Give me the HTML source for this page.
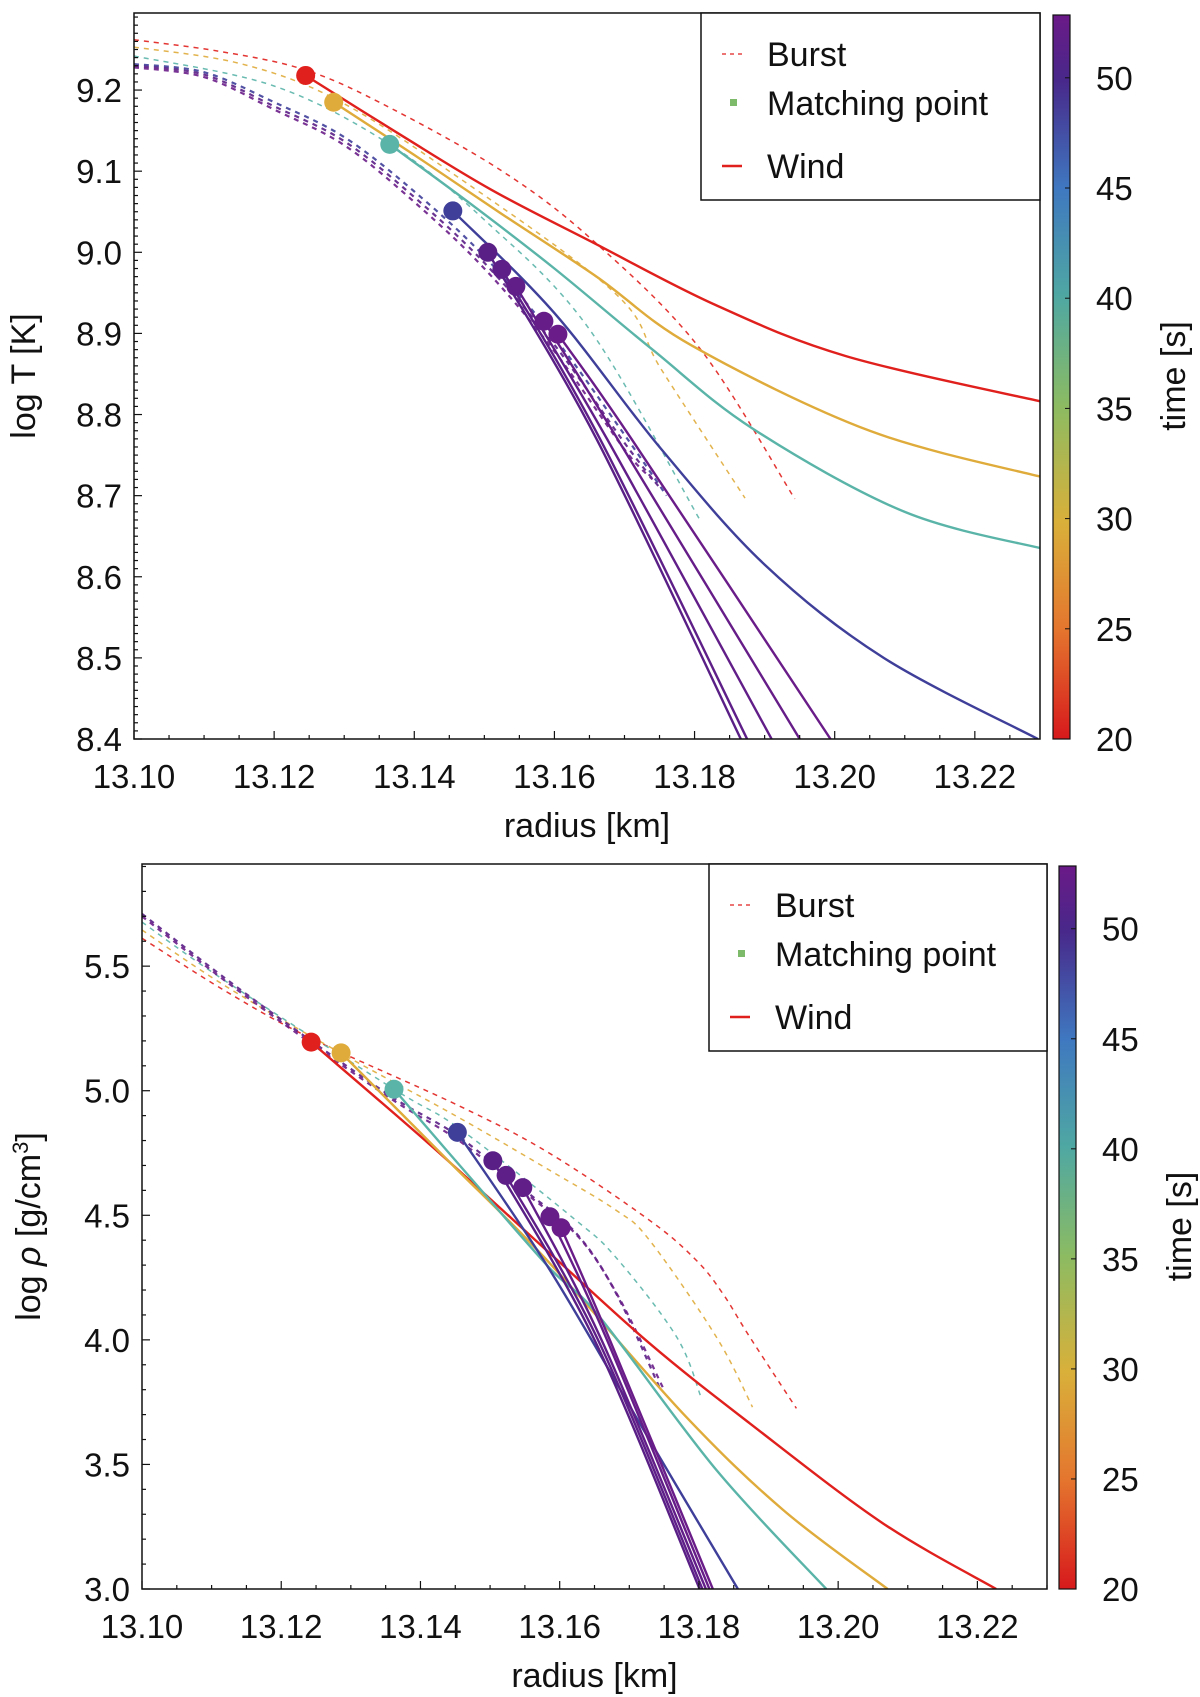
<!DOCTYPE html>
<html><head><meta charset="utf-8"><style>
html,body{margin:0;padding:0;background:#fff;width:1200px;height:1697px;overflow:hidden}
svg{display:block}
text{font-family:"Liberation Sans",sans-serif;fill:#111}
</style></head><body>
<svg id="fig" width="1200" height="1697" viewBox="0 0 1200 1697">
<defs>
<linearGradient id="cb" x1="0" y1="1" x2="0" y2="0">
<stop offset="0" stop-color="#d7191c"/><stop offset="0.15" stop-color="#e4752e"/>
<stop offset="0.30" stop-color="#d9b03a"/><stop offset="0.46" stop-color="#8cbb62"/>
<stop offset="0.61" stop-color="#4fa8a2"/><stop offset="0.76" stop-color="#3f78c0"/>
<stop offset="0.91" stop-color="#48288a"/><stop offset="1" stop-color="#6b1a88"/>
</linearGradient>
</defs>
</svg>
<script>
// ---- data: top panel (log T) ----
const colorsT = ['#e0201d','#dfab3a','#5ab4a8','#3f3f9a','#5a1f86','#5e1f88','#621e88','#661d88','#6a1d88'];
const dotR = [13.1245,13.1285,13.1365,13.1455,13.1505,13.1525,13.1545,13.1585,13.1605];
const dotT = [9.218,9.185,9.133,9.051,9.000,8.979,8.958,8.915,8.899];
const windT_r = [
 [13.1245,13.138,13.151,13.1653,13.183,13.2016,13.23],
 [13.1285,13.14,13.152,13.166,13.1796,13.205,13.23],
 [13.1365,13.148,13.16,13.174,13.1884,13.21,13.23],
 [13.1455,13.16,13.175,13.19,13.207,13.229],
 [13.1505,13.166,13.1866],
 [13.1525,13.1665,13.1875],
 [13.1545,13.1675,13.191],
 [13.1585,13.169,13.195],
 [13.1605,13.171,13.1994]];
const windT_v = [
 [9.218,9.145,9.077,9.013,8.935,8.872,8.815],
 [9.185,9.12,9.05,8.97,8.885,8.78,8.722],
 [9.133,9.06,8.98,8.88,8.782,8.68,8.634],
 [9.051,8.925,8.76,8.615,8.50,8.400],
 [9.000,8.77,8.40],
 [8.979,8.77,8.40],
 [8.958,8.77,8.40],
 [8.915,8.77,8.40],
 [8.899,8.77,8.40]];
const burstT_r = [
 [13.10,13.112,13.124,13.135,13.1522,13.1653,13.1807,13.1943],
 [13.10,13.115,13.1285,13.145,13.1686,13.1753,13.1872],
 [13.10,13.12,13.1365,13.15,13.165,13.1807],
 [13.10,13.11,13.12,13.13,13.14,13.15,13.16,13.17,13.176],
 [13.10,13.11,13.12,13.13,13.14,13.15,13.16,13.17,13.175],
 [13.10,13.11,13.12,13.13,13.14,13.15,13.16,13.17,13.174]];
const burstT_v = [
 [9.262,9.248,9.226,9.185,9.102,9.016,8.882,8.696],
 [9.253,9.233,9.19,9.10,8.95,8.855,8.697],
 [9.242,9.205,9.133,9.04,8.905,8.671],
 [9.232,9.222,9.185,9.142,9.075,8.995,8.895,8.775,8.70],
 [9.230,9.219,9.180,9.137,9.068,8.987,8.886,8.765,8.71],
 [9.228,9.216,9.176,9.132,9.062,8.980,8.878,8.757,8.72]];
const burstT_c = ['#e0201d','#dfab3a','#5ab4a8','#3f3f9a','#5a1f86','#6a1d88'];

// ---- data: bottom panel (log rho) ----
const dotRr = [13.1243,13.1286,13.1362,13.1453,13.1504,13.1523,13.1547,13.1586,13.1602];
const dotRho = [5.195,5.152,5.006,4.833,4.719,4.660,4.611,4.494,4.450];
const windR_r = [
 [13.1243,13.1415,13.1586,13.1729,13.1873,13.2064,13.2227],
 [13.1286,13.1436,13.1586,13.1777,13.1921,13.2071],
 [13.1362,13.1475,13.1586,13.1657,13.1825,13.1983],
 [13.1453,13.1586,13.1729,13.1856],
 [13.1504,13.165,13.1801],
 [13.1523,13.1655,13.1805],
 [13.1547,13.166,13.181],
 [13.1586,13.1668,13.1815],
 [13.1602,13.1672,13.182]];
const windR_v = [
 [5.195,4.78,4.347,3.986,3.665,3.264,3.0],
 [5.152,4.73,4.307,3.705,3.317,3.0],
 [5.006,4.64,4.287,4.093,3.478,3.0],
 [4.833,4.28,3.598,3.0],
 [4.719,4.0,3.0],
 [4.660,4.0,3.0],
 [4.611,4.0,3.0],
 [4.494,4.0,3.0],
 [4.450,4.0,3.0]];
const burstR_r = [
 [13.10,13.112,13.1243,13.1455,13.1586,13.1729,13.1796,13.1834,13.1873,13.194],
 [13.10,13.112,13.1286,13.145,13.1586,13.1681,13.1729,13.1825,13.1877],
 [13.10,13.112,13.1362,13.1455,13.1619,13.1681,13.1768,13.1803],
 [13.10,13.112,13.1243,13.1362,13.1453,13.155,13.1624,13.1681,13.1744],
 [13.10,13.112,13.1243,13.1362,13.1455,13.1555,13.1628,13.1685,13.1748]];
const burstR_v = [
 [5.612,5.40,5.21,4.94,4.748,4.48,4.32,4.187,4.012,3.725],
 [5.645,5.42,5.15,4.90,4.68,4.52,4.40,4.012,3.73],
 [5.677,5.44,5.006,4.85,4.49,4.33,4.012,3.77],
 [5.71,5.45,5.2,4.97,4.82,4.6,4.427,4.187,3.805],
 [5.70,5.44,5.19,4.96,4.80,4.58,4.41,4.17,3.81]];
const burstR_c = ['#e0201d','#dfab3a','#5ab4a8','#5a1f86','#6a1d88'];

const xTicks = ['13.10','13.12','13.14','13.16','13.18','13.20','13.22'];
const yTicksT = ['8.4','8.5','8.6','8.7','8.8','8.9','9.0','9.1','9.2'];
const yTicksR = ['3.0','3.5','4.0','4.5','5.0','5.5'];
const cbTicks = [20,25,30,35,40,45,50];

const NS='http://www.w3.org/2000/svg';
const svg=document.getElementById('fig');
function mk(tag,attrs,parent){const e=document.createElementNS(NS,tag);for(const k in attrs)e.setAttribute(k,attrs[k]);(parent||svg).appendChild(e);return e;}
function smooth(pts){let d='M'+pts[0][0]+','+pts[0][1];
 for(let i=0;i<pts.length-1;i++){const p0=pts[i-1]||pts[i],p1=pts[i],p2=pts[i+1],p3=pts[i+2]||p2;
  const c1=[p1[0]+(p2[0]-p0[0])/6,p1[1]+(p2[1]-p0[1])/6],c2=[p2[0]-(p3[0]-p1[0])/6,p2[1]-(p3[1]-p1[1])/6];
  d+=' C'+c1[0].toFixed(1)+','+c1[1].toFixed(1)+' '+c2[0].toFixed(1)+','+c2[1].toFixed(1)+' '+p2[0].toFixed(1)+','+p2[1].toFixed(1);}
 return d;}

function panel(o){
 const sx=v=>o.L+(v-o.x0)/(o.x1-o.x0)*(o.R-o.L);
 const sy=v=>o.B-(v-o.y0)/(o.y1-o.y0)*(o.B-o.T);
 const g=mk('g',{});
 
 
 const clip=mk('clipPath',{id:'c'+o.name},g);mk('rect',{x:o.L,y:o.T,width:o.R-o.L,height:o.B-o.T},clip);
 const pg=mk('g',{'clip-path':'url(#c'+o.name+')'},g);
 o.br.forEach((rs,i)=>{const p=mk('path',{d:smooth(rs.map((r,j)=>[sx(r),sy(o.bv[i][j])])),fill:'none',stroke:o.bc[i],'stroke-width':i>=3?2.2:1.5,'stroke-dasharray':'5,5',opacity:0.9},pg);
  
  });
 o.wr.forEach((rs,i)=>{const p=mk('path',{d:smooth(rs.map((r,j)=>[sx(r),sy(o.wv[i][j])])),fill:'none',stroke:colorsT[i],'stroke-width':2.4},pg);
  
  });
 o.dr.forEach((r,i)=>{const c=mk('circle',{cx:sx(r),cy:sy(o.dv[i]),r:9.5,fill:colorsT[i]},pg);
  
  });
 mk('rect',{x:o.L,y:o.T,width:o.R-o.L,height:o.B-o.T,fill:'none',stroke:'#111','stroke-width':1.5},g);
 for(let v=13.10;v<=o.x1+1e-9;v+=0.005){const X=sx(v);const maj=Math.abs(Math.round(v*50)-v*50)<1e-6;
  mk('line',{x1:X,x2:X,y1:o.B,y2:o.B-(maj?8:4),stroke:'#111','stroke-width':1.2},g);}
 xTicks.forEach(t=>{const e=mk('text',{x:sx(+t),y:o.B+49,'text-anchor':'middle','font-size':33},g);e.textContent=t;
  
  });
 const n=Math.round((o.y1-o.y0)/o.ym);
 for(let k=0;k<=n;k++){const v=o.y0+k*o.ym;const Y=sy(v);if(Y<o.T)break;
  const maj=Math.abs(v/o.yM-Math.round(v/o.yM))<1e-6;
  mk('line',{x1:o.L,x2:o.L+(maj?8:4),y1:Y,y2:Y,stroke:'#111','stroke-width':1.2},g);}
 o.yt.forEach(t=>{const e=mk('text',{x:o.L-12,y:sy(+t)+12,'text-anchor':'end','font-size':33},g);e.textContent=t;
  
  });
 const xl=mk('text',{x:(o.L+o.R)/2,y:o.B+98,'text-anchor':'middle','font-size':34},g);xl.textContent='radius [km]';
 
 
 const yl=mk('text',{x:0,y:0,'text-anchor':'middle','font-size':34,transform:`translate(${o.ylx},${(o.T+o.B)/2}) rotate(-90)`},g);
 yl.innerHTML=o.ylab;
 
 
 const lg=mk('g',{},g);
 
 
 mk('rect',{x:o.lgx,y:o.T,width:o.R-o.lgx,height:o.lgh,fill:'#fff',stroke:'#111','stroke-width':1.5},lg);
 mk('line',{x1:o.lgx+21,x2:o.lgx+41,y1:o.T+41,y2:o.T+41,stroke:'#e0201d','stroke-width':1.3,'stroke-dasharray':'4,4'},lg);
 mk('rect',{x:o.lgx+29,y:o.T+86,width:7,height:7,fill:'#7dbb6a'},lg);
 mk('line',{x1:o.lgx+21,x2:o.lgx+41,y1:o.T+153,y2:o.T+153,stroke:'#e0201d','stroke-width':2.5},lg);
 [['Burst',53],['Matching point',102],['Wind',165]].forEach(([t,y])=>{const e=mk('text',{x:o.lgx+66,y:o.T+y,'font-size':34},lg);e.textContent=t;
  
  });
 const cg=mk('g',{},g);
 
 
 mk('rect',{x:o.cbx,y:o.T+2,width:o.cbw,height:o.B-o.T-2,fill:'url(#cb)',stroke:'#111','stroke-width':1.2},cg);
 const cy=v=>o.B-(v-20)/(52.85-20)*(o.B-o.T-2);
 cbTicks.forEach(v=>{mk('line',{x1:o.cbx+o.cbw,x2:o.cbx+o.cbw-5,y1:cy(v),y2:cy(v),stroke:'#111'},cg);
  const e=mk('text',{x:o.cbx+o.cbw+26,y:cy(v)+12,'font-size':33},cg);e.textContent=v;
  
  });
 const tl=mk('text',{x:0,y:0,'text-anchor':'middle','font-size':34,transform:`translate(${o.cbx+o.cbw+115},${(o.T+o.B)/2}) rotate(-90)`},cg);
 tl.textContent='time [s]';
 
 
}
panel({name:'temperature-panel',L:134,R:1040,T:13,B:739,x0:13.10,x1:13.2293,y0:8.4,y1:9.295,ym:0.01,yM:0.1,yt:yTicksT,
 br:burstT_r,bv:burstT_v,bc:burstT_c,wr:windT_r,wv:windT_v,dr:dotR,dv:dotT,ylx:35,ylab:'log T [K]',lgx:701,lgh:187,cbx:1053,cbw:17});
panel({name:'density-panel',L:142,R:1047,T:864,B:1589,x0:13.10,x1:13.23,y0:3.0,y1:5.91,ym:0.1,yM:0.5,yt:yTicksR,
 br:burstR_r,bv:burstR_v,bc:burstR_c,wr:windR_r,wv:windR_v,dr:dotRr,dv:dotRho,ylx:40,ylab:'log <tspan font-style="italic">ρ</tspan> [g/cm<tspan dy="-12" font-size="22">3</tspan><tspan dy="12">]</tspan>',lgx:709,lgh:187,cbx:1059,cbw:17});
</script>
</body></html>
